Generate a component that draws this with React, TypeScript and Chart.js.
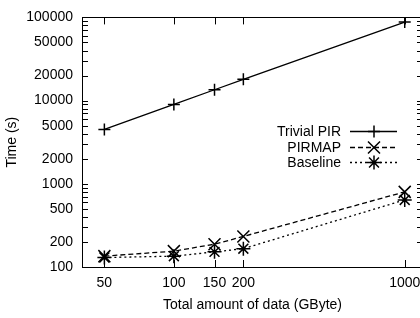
import React, { useEffect, useRef } from 'react';
import { Chart, registerables } from 'chart.js';

Chart.register(...registerables);

const dataSizes = [50, 100, 150, 200, 1000];
const trivialPir = [4500, 9000, 13500, 18000, 88000];
const pirmap = [135, 155, 188, 233, 800];
const baseline = [130, 135, 152, 166, 640];

const xTicks = [50, 100, 150, 200, 1000];
const yTicks = [100, 200, 500, 1000, 2000, 5000, 10000, 20000, 50000, 100000];
const yMinorTicks = [300, 400, 600, 700, 800, 900, 3000, 4000, 6000, 7000, 8000, 9000, 30000, 40000, 60000, 70000, 80000, 90000];

const seriesLabels = ['Trivial PIR', 'PIRMAP', 'Baseline'];
const xTitle = 'Total amount of data (GByte)';
const yTitle = 'Time (s)';

const FONT = 'Liberation Sans, Arial, Helvetica, sans-serif';
const FONT_SIZE = 14;

function drawMarker(ctx: CanvasRenderingContext2D, style: string, x: number, y: number, r: number) {
  ctx.beginPath();
  if (style === 'cross' || style === 'star') {
    ctx.moveTo(x - r, y); ctx.lineTo(x + r, y);
    ctx.moveTo(x, y - r); ctx.lineTo(x, y + r);
  }
  if (style === 'crossRot' || style === 'star') {
    const d = r * Math.SQRT1_2;
    ctx.moveTo(x - d, y - d); ctx.lineTo(x + d, y + d);
    ctx.moveTo(x - d, y + d); ctx.lineTo(x + d, y - d);
  }
  ctx.stroke();
}

const framePlugin = {
  id: 'frame',
  afterDraw(chart: any) {
    const { ctx, chartArea } = chart;
    const { left, right, top, bottom } = chartArea;
    const xs = chart.scales.x;
    const ys = chart.scales.y;
    ctx.save();
    ctx.strokeStyle = '#000';
    ctx.lineWidth = 1;
    ctx.setLineDash([]);
    ctx.strokeRect(Math.round(left) + 0.5, Math.round(top) + 0.5, Math.round(right - left), Math.round(bottom - top));
    const tl = 6;
    ctx.beginPath();
    for (const v of [...yTicks, ...yMinorTicks]) {
      const py = Math.round(ys.getPixelForValue(v)) + 0.5;
      ctx.moveTo(left, py); ctx.lineTo(left + tl, py);
      ctx.moveTo(right, py); ctx.lineTo(right - tl, py);
    }
    for (const v of xTicks) {
      const px = Math.round(xs.getPixelForValue(v)) + 0.5;
      ctx.moveTo(px, bottom); ctx.lineTo(px, bottom - tl - 1);
      ctx.moveTo(px, top); ctx.lineTo(px, top + tl + 1);
    }
    ctx.stroke();

    // legend
    const rows = [131, 147, 162];
    ctx.font = `${FONT_SIZE}px ${FONT}`;
    ctx.fillStyle = '#000';
    ctx.textAlign = 'right';
    ctx.textBaseline = 'middle';
    chart.data.datasets.forEach((ds: any, i: number) => {
      const y = rows[i];
      ctx.fillText(ds.label, 341, y + 1);
      ctx.save();
      ctx.lineWidth = ds.borderWidth;
      ctx.setLineDash(ds.borderDash || []);
      ctx.beginPath();
      ctx.moveTo(350, y + 0.5);
      ctx.lineTo(397, y + 0.5);
      ctx.stroke();
      ctx.setLineDash([]);
      ctx.lineWidth = ds.pointBorderWidth;
      drawMarker(ctx, ds.pointStyle, 374, y + 0.5, ds.pointRadius);
      ctx.restore();
    });
    ctx.restore();
  },
};

export default function App() {
  const ref = useRef<HTMLCanvasElement | null>(null);
  useEffect(() => {
    if (!ref.current) return;
    const font = { family: FONT, size: FONT_SIZE };
    const common = (label: string, data: number[], style: string, r: number, dash: number[]) => ({
      label,
      data: dataSizes.map((x, i) => ({ x, y: data[i] })),
      borderColor: '#000',
      backgroundColor: '#000',
      borderWidth: 1.3,
      borderDash: dash,
      pointStyle: style,
      pointRadius: r,
      pointBorderWidth: 1.5,
      pointBorderColor: '#000',
      fill: false,
      tension: 0,
    });
    const chart = new Chart(ref.current, {
      type: 'line',
      data: {
        datasets: [
          common(seriesLabels[0], trivialPir, 'cross', 6, []),
          common(seriesLabels[1], pirmap, 'crossRot', 8.5, [5, 3]),
          common(seriesLabels[2], baseline, 'star', 7, [2, 3]),
        ] as any,
      },
      options: {
        animation: false,
        responsive: false,
        devicePixelRatio: 1,
        layout: { padding: { top: 14, right: 17, left: 0, bottom: 0 } },
        plugins: { legend: { display: false }, tooltip: { enabled: false } },
        scales: {
          x: {
            type: 'logarithmic',
            min: 40,
            max: 1200,
            afterBuildTicks: (s: any) => { s.ticks = xTicks.map((v) => ({ value: v })); },
            afterFit: (s: any) => { s.height = 51; },
            ticks: { callback: (v: any) => String(v), font, color: '#000', padding: 8, maxRotation: 0, autoSkip: false },
            grid: { display: false, drawTicks: false },
            border: { display: false },
            title: { display: true, text: xTitle, font, color: '#000', padding: { top: 0, bottom: 4 } },
          },
          y: {
            type: 'logarithmic',
            min: 100,
            max: 100000,
            afterBuildTicks: (s: any) => { s.ticks = yTicks.map((v) => ({ value: v })); },
            afterFit: (s: any) => { s.width = 82; },
            ticks: { callback: (v: any) => String(v), font, color: '#000', padding: 9, autoSkip: false },
            grid: { display: false, drawTicks: false },
            border: { display: false },
            title: { display: true, text: yTitle, font, color: '#000', padding: { top: 4, bottom: 0 } },
          },
        },
      },
      plugins: [framePlugin],
    } as any);
    return () => chart.destroy();
  }, []);
  return (
    <div style={{ position: 'fixed', left: 0, top: 0, width: 420, height: 318, overflow: 'hidden', background: '#fff' }}>
      <canvas ref={ref} width={440} height={318} style={{ width: 440, height: 318, display: 'block' }} />
    </div>
  );
}
